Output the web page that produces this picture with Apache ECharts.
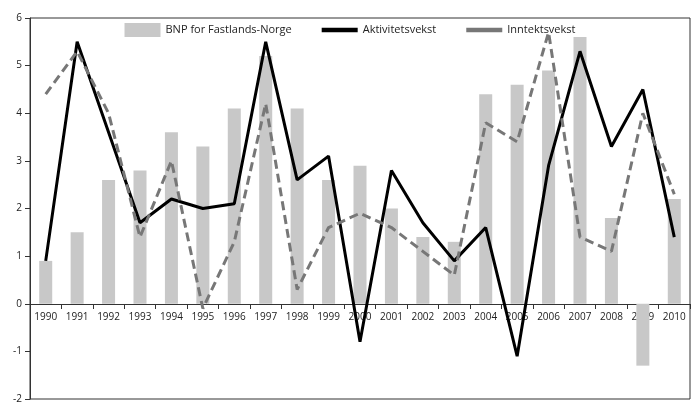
<!DOCTYPE html>
<html><head><meta charset="utf-8">
<script src="https://cdn.jsdelivr.net/npm/echarts@6/dist/echarts.min.js"></script>
<style>html,body{margin:0;padding:0;background:#fff}#c{width:700px;height:414px}</style>
</head><body><div id="c"></div>
<script>
const years = ['1990','1991','1992','1993','1994','1995','1996','1997','1998','1999','2000','2001','2002','2003','2004','2005','2006','2007','2008','2009','2010'];
const bnp = [0.9,1.5,2.6,2.8,3.6,3.3,4.1,5.2,4.1,2.6,2.9,2.0,1.4,1.3,4.4,4.6,4.9,5.6,1.8,-1.3,2.2];
const aktivitet = [0.9,5.5,3.6,1.7,2.2,2.0,2.1,5.5,2.6,3.1,-0.8,2.8,1.7,0.9,1.6,-1.1,2.9,5.3,3.3,4.5,1.4];
const inntekt = [4.4,5.3,4.0,1.4,3.0,-0.1,1.3,4.2,0.3,1.6,1.9,1.6,1.1,0.6,3.8,3.4,5.7,1.4,1.1,4.0,2.3];
const chart = echarts.init(document.getElementById('c'));
const font = 'Open Sans';
const lineIcon = 'path://M0,0H40V5H0Z';
chart.setOption({
  animation:false,
  textStyle:{fontFamily:font},
  legend:{top:18,left:'center',itemGap:30,itemWidth:36,textStyle:{fontSize:11,color:'#222'},
    data:[{name:'BNP for Fastlands-Norge',icon:'rect',itemStyle:{color:'#c8c8c8'}},
      {name:'Aktivitetsvekst',icon:lineIcon},{name:'Inntektsvekst',icon:lineIcon}]},
  grid:{left:30,right:10,top:18,bottom:15,show:true,borderColor:'#333',borderWidth:1},
  xAxis:{type:'category',data:years,offset:-95,axisLine:{onZero:false,lineStyle:{color:'#333'}},
    axisTick:{show:true,lineStyle:{color:'#333'}},
    axisLabel:{fontSize:10,color:'#222'}},
  yAxis:{type:'value',min:-2,max:6,interval:1,splitLine:{show:false},
    axisLine:{show:true,lineStyle:{color:'#333'}},axisTick:{show:true},
    axisLabel:{fontSize:10,color:'#222'}},
  series:[
    {name:'BNP for Fastlands-Norge',type:'bar',data:bnp,barWidth:13,itemStyle:{color:'#c8c8c8'}},
    {name:'Aktivitetsvekst',type:'line',data:aktivitet,symbol:'none',lineStyle:{color:'#000',width:3},itemStyle:{color:'#000'}},
    {name:'Inntektsvekst',type:'line',data:inntekt,symbol:'none',lineStyle:{color:'#777',width:3,type:[9,5]},itemStyle:{color:'#777'}}
  ]
});
</script></body></html>
